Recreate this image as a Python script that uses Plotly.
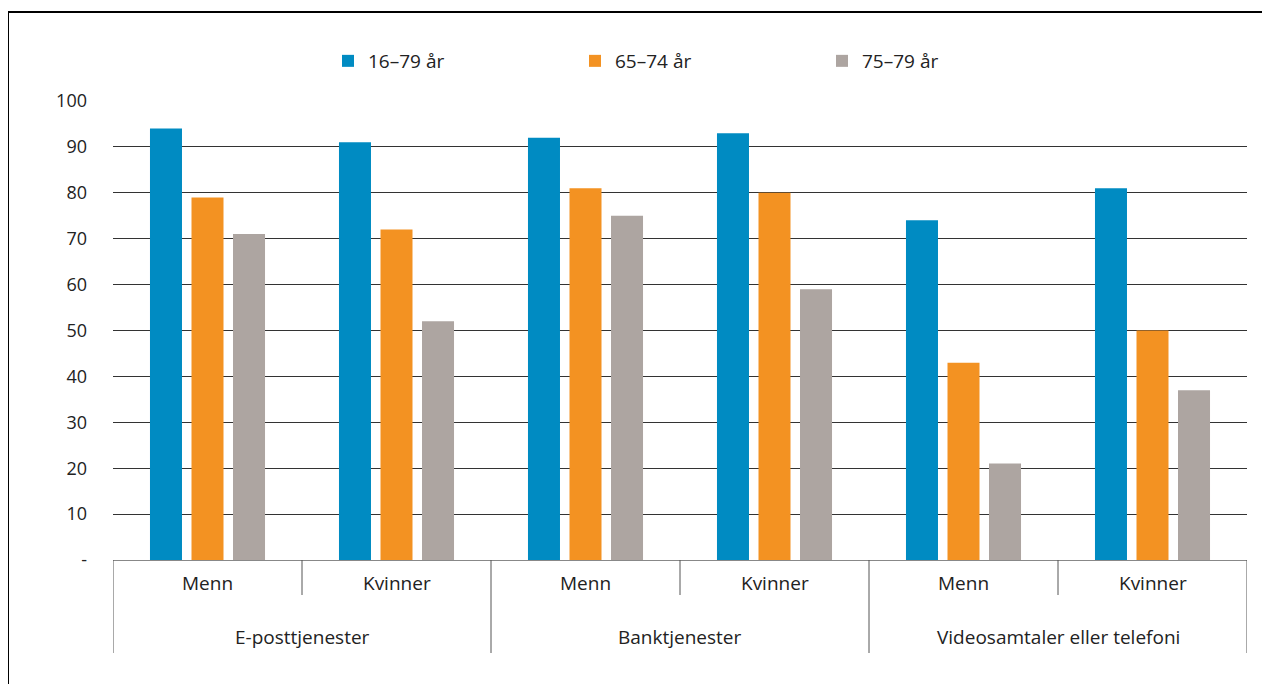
import plotly.graph_objects as go

groups = ["E-posttjenester", "Banktjenester", "Videosamtaler eller telefoni"]
subcats = ["Menn", "Kvinner", "Menn", "Kvinner", "Menn", "Kvinner"]
series_names = ["16–79 år", "65–74 år", "75–79 år"]
vals_16_79 = [94, 91, 92, 93, 74, 81]
vals_65_74 = [79, 72, 81, 80, 43, 50]
vals_75_79 = [71, 52, 75, 59, 21, 37]
colors = ["#008bc2", "#f39222", "#ada5a1"]
yticks = [0, 10, 20, 30, 40, 50, 60, 70, 80, 90, 100]
ytick_text = ["-", "10", "20", "30", "40", "50", "60", "70", "80", "90", "100"]

FONT = "Open Sans"
xs = list(range(len(subcats)))

fig = go.Figure()
for name, vals, col in zip(series_names, [vals_16_79, vals_65_74, vals_75_79], colors):
    fig.add_trace(go.Bar(x=xs, y=vals, name=name, marker=dict(color=col, line=dict(width=0))))

OFF = 8  # page body margin
W, H = 1270 - OFF, 684 - OFF
L, R, T, B = 113 - OFF, 23, 101 - OFF, 124
pw, ph = W - L - R, H - T - B

def px_x(p):  # page pixel -> paper
    return (p - OFF - L) / pw

def px_y(p):
    return (OFF + H - B - p) / ph

shapes = []
shapes.append(dict(type="rect", xref="paper", yref="paper", x0=px_x(8), x1=px_x(1300), y0=px_y(720), y1=px_y(12),
                   line=dict(color="black", width=2), fillcolor="rgba(0,0,0,0)", layer="below"))
n = len(subcats)
for i in range(n + 1):
    full = (i % 2 == 0)
    shapes.append(dict(type="line", xref="x", yref="paper", x0=i - 0.5, x1=i - 0.5,
                       y0=0, y1=px_y(653 if full else 595), line=dict(color="#555555", width=1)))

annotations = []
for i, s in enumerate(subcats):
    annotations.append(dict(x=i, y=px_y(583), xref="x", yref="paper", text=s, showarrow=False,
                            font=dict(family=FONT, size=19, color="#222222"), yanchor="middle"))
for g, name in enumerate(groups):
    annotations.append(dict(x=2 * g + 0.5, y=px_y(637), xref="x", yref="paper", text=name, showarrow=False,
                            font=dict(family=FONT, size=19, color="#222222"), yanchor="middle"))

fig.update_layout(
    width=W, height=H,
    margin=dict(l=L, r=R, t=T, b=B),
    paper_bgcolor="white", plot_bgcolor="white",
    barmode="group", bargap=0.341, bargroupgap=0.229,
    font=dict(family=FONT, size=19, color="#222222"),
    showlegend=True,
    legend=dict(orientation="h", x=px_x(328), y=px_y(61), xanchor="left", yanchor="middle",
                entrywidth=202, entrywidthmode="pixels", font=dict(family=FONT, size=19, color="#222222"),
                bgcolor="rgba(0,0,0,0)"),
    xaxis=dict(range=[-0.5, n - 0.5], showticklabels=False, showgrid=False, zeroline=False,
               showline=True, linecolor="#888888", linewidth=1, ticks=""),
    yaxis=dict(range=[0, 100], tickvals=yticks, ticktext=ytick_text, showgrid=True, gridcolor="#333333",
               gridwidth=1, zeroline=False, showline=False, ticks="", ticklabelstandoff=25,
               tickfont=dict(family=FONT, size=18, color="#222222")),
    shapes=shapes, annotations=annotations,
)

fig.write_html("out.html")
